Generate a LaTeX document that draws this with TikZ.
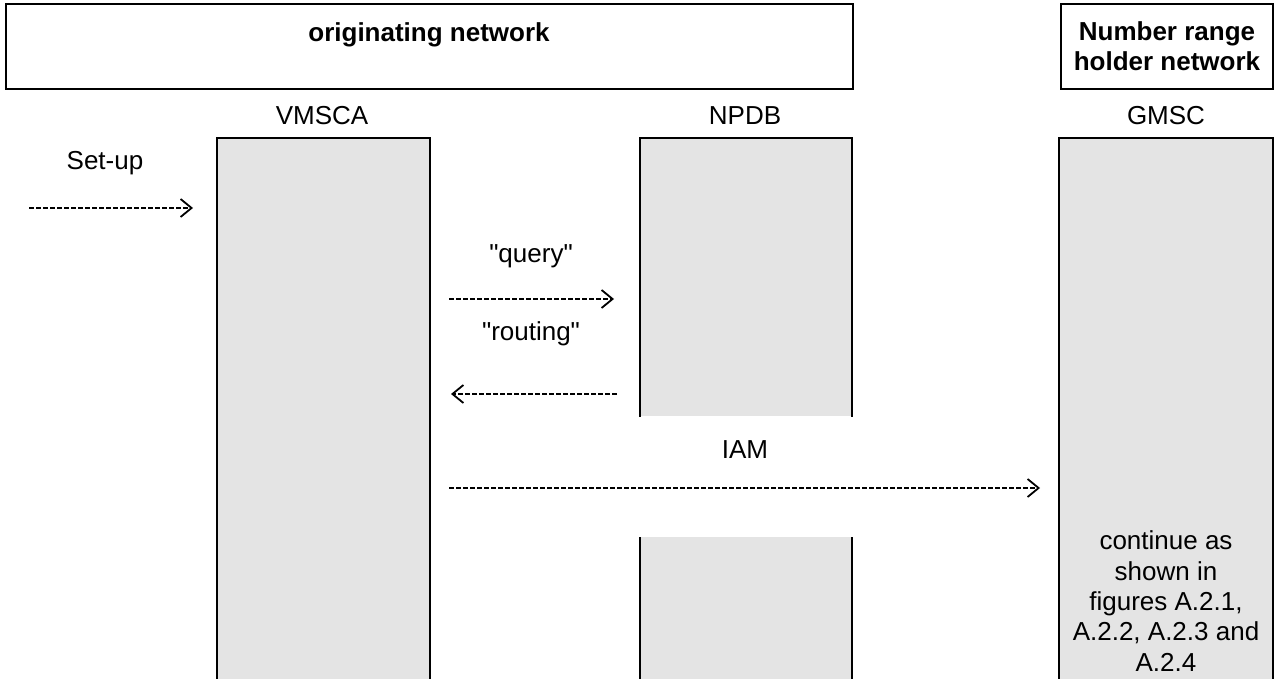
\documentclass[tikz,border=0pt]{standalone}
\usepackage{fontspec}
\setmainfont{Liberation Sans}
\usetikzlibrary{arrows.meta}
\definecolor{colfill}{RGB}{228,228,228}
\tikzset{
  lbl/.style={font=\fontsize{13}{15.2}\selectfont, inner sep=0pt, align=center},
  hdr/.style={draw, line width=1pt, font=\bfseries\fontsize{13}{15}\selectfont, align=center, inner sep=0pt},
  colbox/.style={fill=colfill, draw=none, inner sep=0pt, anchor=north west},
  edge/.style={line width=1pt},
  msg/.style={line width=0.9pt, dash pattern=on 2.5pt off 1pt, -{Straight Barb[length=5.5pt,width=9pt,line width=0.9pt]}}
}
\begin{document}
\begin{tikzpicture}[x=0.5pt,y=-0.5pt]
\useasboundingbox (0,0) rectangle (1275,679);
% header boxes
\node[hdr, minimum width=423.5pt, minimum height=42.5pt, anchor=north west] (orig) at (5,3) {};
\node[lbl, font=\bfseries\fontsize{13}{15}\selectfont, anchor=base] (origt) at (429,42) {originating network};
\node[hdr, minimum width=106pt, minimum height=42.5pt, anchor=north west] (nrh) at (1060,3) {Number range\\holder network};
% entity labels
\node[lbl] (lv) at (322,116) {VMSCA};
\node[lbl] (ln) at (745,116) {NPDB};
\node[lbl] (lg) at (1166,116) {GMSC};
% columns
\node[colbox, minimum width=106pt, minimum height=272pt] (cv) at (217,138) {};
\node[colbox, minimum width=105.5pt, minimum height=139pt] (cn1) at (640,138) {};
\node[colbox, minimum width=105.5pt, minimum height=72pt] (cn2) at (640,537) {};
\node[colbox, minimum width=106.5pt, minimum height=272pt] (cg) at (1059,138) {};
\draw[edge] (cv.south west) -- (cv.north west) -- (cv.north east) -- (cv.south east);
\draw[edge] (cn1.south west) -- (cn1.north west) -- (cn1.north east) -- (cn1.south east);
\draw[edge] (cn2.north west) -- (cn2.south west);
\draw[edge] (cn2.north east) -- (cn2.south east);
\draw[edge] (cg.south west) -- (cg.north west) -- (cg.north east) -- (cg.south east);
% messages
\node[lbl] (tsetup) at (105,163) {Set-up};
\coordinate (s1) at (29,208); \coordinate (s2) at (193,208);
\draw[msg] (s1) -- (s2);
\node[lbl] (tquery) at (531,256) {\textquotedbl query\textquotedbl};
\coordinate (q1) at (449,299); \coordinate (q2) at (614,299);
\draw[msg] (q1) -- (q2);
\node[lbl] (trouting) at (531,334) {\textquotedbl routing\textquotedbl};
\coordinate (r1) at (617,394); \coordinate (r2) at (451,394);
\draw[msg] (r1) -- (r2);
\node[lbl] (tiam) at (745,450) {IAM};
\coordinate (i1) at (449,488); \coordinate (i2) at (1040,488);
\draw[msg] (i1) -- (i2);
% GMSC note
\node[lbl] (note) at (1166,601) {continue as\\shown in\\figures A.2.1,\\A.2.2, A.2.3 and\\A.2.4};
\end{tikzpicture}
\end{document}
